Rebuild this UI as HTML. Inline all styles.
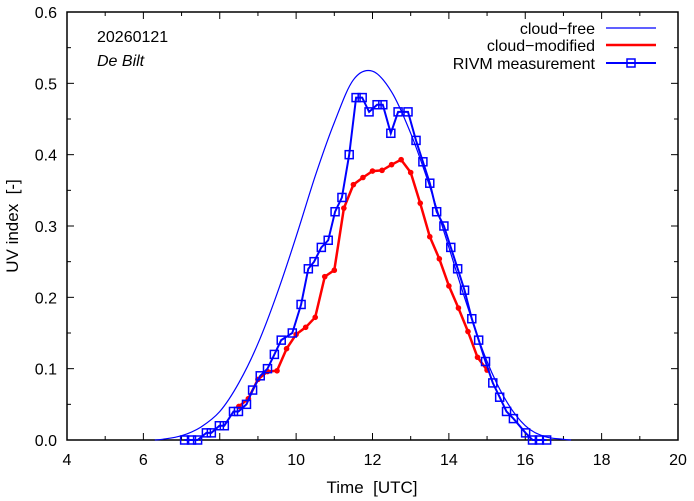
<!DOCTYPE html>
<html><head><meta charset="utf-8"><style>
html,body{margin:0;padding:0;background:#fff;}
svg{display:block;font-family:"Liberation Sans",sans-serif;}
</style></head><body>
<svg id="chart" width="694" height="501" xmlns="http://www.w3.org/2000/svg">
<g id="axes"></g>
<g id="series"></g>
<text x="97" y="42" font-size="16">20260121</text>
<text x="97" y="66" font-size="16" font-style="italic">De Bilt</text>
<g>
<g>
<text x="595" y="34" font-size="16" text-anchor="end">cloud−free</text>
<line x1="606" y1="28" x2="656" y2="28" stroke="#0000ff" stroke-width="1.2"/></g>
<g>
<text x="595" y="51" font-size="16" text-anchor="end">cloud−modified</text>
<line x1="606" y1="45" x2="656" y2="45" stroke="#ff0000" stroke-width="2.5"/></g>
<g>
<text x="595" y="69" font-size="16" text-anchor="end">RIVM measurement</text>
<line x1="606" y1="63" x2="656" y2="63" stroke="#0000ff" stroke-width="2"/>
<rect x="627" y="59" width="8" height="8" fill="none" stroke="#0000ff" stroke-width="1.5"/></g>
</g>
<text x="372" y="493" font-size="17" text-anchor="middle">Time&#160;&#160;[UTC]</text>
<text transform="translate(18,226) rotate(-90)" font-size="17" text-anchor="middle">UV index&#160;&#160;[-]</text>
</svg>
<script>
const xTicks = [4,6,8,10,12,14,16,18,20];
const yTicks = [0,0.1,0.2,0.3,0.4,0.5,0.6];
const clearTimes = [6.3,6.5,7,7.5,8,8.5,9,9.5,10,10.5,11,11.5,12,12.5,13,13.5,14,14.5,15,15.5,16,16.5,17,17.2];
const clearValues = [0,0.001,0.006,0.018,0.04,0.08,0.135,0.205,0.285,0.37,0.445,0.505,0.517,0.488,0.43,0.355,0.27,0.185,0.11,0.055,0.02,0.005,0.001,0];
const modTimes = [8.5,8.75,9,9.25,9.5,9.75,10,10.25,10.5,10.75,11,11.25,11.5,11.75,12,12.25,12.5,12.75,13,13.25,13.5,13.75,14,14.25,14.5,14.75,15];
const modValues = [0.047,0.058,0.085,0.096,0.097,0.128,0.148,0.158,0.172,0.229,0.238,0.325,0.358,0.368,0.377,0.378,0.386,0.393,0.375,0.332,0.285,0.254,0.216,0.185,0.152,0.116,0.098];
const measTimes = [7.08,7.26,7.42,7.65,7.78,7.99,8.12,8.36,8.49,8.70,8.86,9.06,9.25,9.43,9.61,9.90,10.13,10.32,10.47,10.66,10.84,11.02,11.20,11.39,11.57,11.73,11.91,12.12,12.27,12.48,12.67,12.93,13.14,13.32,13.50,13.68,13.87,14.05,14.23,14.41,14.60,14.78,14.96,15.15,15.33,15.51,15.69,16.01,16.19,16.37,16.56];
const measValues = [0,0,0,0.01,0.01,0.02,0.02,0.04,0.04,0.05,0.07,0.09,0.10,0.12,0.14,0.15,0.19,0.24,0.25,0.27,0.28,0.32,0.34,0.40,0.48,0.48,0.46,0.47,0.47,0.43,0.46,0.46,0.42,0.39,0.36,0.32,0.30,0.27,0.24,0.21,0.17,0.14,0.11,0.08,0.06,0.04,0.03,0.01,0,0,0];

const L=67,R=678,T=12,B=440,xMin=4,xMax=20,yMin=0,yMax=0.6;
function xs(v){return L+(v-xMin)/(xMax-xMin)*(R-L);}
function ys(v){return B-(v-yMin)/(yMax-yMin)*(B-T);}
const NS="http://www.w3.org/2000/svg";
function mk(tag,attrs,parent){const e=document.createElementNS(NS,tag);for(const k in attrs)e.setAttribute(k,attrs[k]);parent.appendChild(e);return e;}
const ax=document.getElementById('axes');
const frame=mk('rect',{x:L,y:T,width:R-L,height:B-T,fill:'none',stroke:'#000','stroke-width':1.5},ax);


xTicks.forEach((v,i)=>{
  const x=xs(v);
  mk('line',{x1:x,y1:B,x2:x,y2:B-7,stroke:'#000'},ax);
  mk('line',{x1:x,y1:T,x2:x,y2:T+7,stroke:'#000'},ax);
  if(i<xTicks.length-1){const m=xs(v+1);
    mk('line',{x1:m,y1:B,x2:m,y2:B-4,stroke:'#000'},ax);
    mk('line',{x1:m,y1:T,x2:m,y2:T+4,stroke:'#000'},ax);}
  const t=mk('text',{x:x,y:465,'font-size':16,'text-anchor':'middle'},ax);
  t.textContent=String(v);
  
  
});
yTicks.forEach((v,i)=>{
  const y=ys(v);
  mk('line',{x1:L,y1:y,x2:L+7,y2:y,stroke:'#000'},ax);
  mk('line',{x1:R,y1:y,x2:R-7,y2:y,stroke:'#000'},ax);
  if(i<yTicks.length-1){const m=ys(v+0.05);
    mk('line',{x1:L,y1:m,x2:L+4,y2:m,stroke:'#000'},ax);
    mk('line',{x1:R,y1:m,x2:R-4,y2:m,stroke:'#000'},ax);}
  const t=mk('text',{x:57,y:y+6,'font-size':16,'text-anchor':'end'},ax);
  t.textContent=v.toFixed(1);
  
  
});
const sg=document.getElementById('series');
function pts(ts,vs){return ts.map((t,i)=>xs(t).toFixed(1)+','+ys(vs[i]).toFixed(1)).join(' ');}
function smooth(ts,vs){
  const p=ts.map((t,i)=>[xs(t),ys(vs[i])]);
  let d='M'+p[0][0].toFixed(1)+','+p[0][1].toFixed(1);
  for(let i=0;i<p.length-1;i++){
    const p0=p[Math.max(0,i-1)],p1=p[i],p2=p[i+1],p3=p[Math.min(p.length-1,i+2)];
    const c1=[p1[0]+(p2[0]-p0[0])/6,p1[1]+(p2[1]-p0[1])/6];
    const c2=[p2[0]-(p3[0]-p1[0])/6,p2[1]-(p3[1]-p1[1])/6];
    d+=' C'+c1[0].toFixed(1)+','+c1[1].toFixed(1)+' '+c2[0].toFixed(1)+','+c2[1].toFixed(1)+' '+p2[0].toFixed(1)+','+p2[1].toFixed(1);
  }
  return d;
}
const cf=mk('path',{d:smooth(clearTimes,clearValues),fill:'none',stroke:'#0000ff','stroke-width':1.2},sg);


const cm=mk('polyline',{points:pts(modTimes,modValues),fill:'none',stroke:'#ff0000','stroke-width':2.5},sg);


modTimes.forEach((t,i)=>{
  const c=mk('circle',{cx:xs(t),cy:ys(modValues[i]),r:2.8,fill:'#ff0000'},sg);
  
  
});
const ml=mk('polyline',{points:pts(measTimes,measValues),fill:'none',stroke:'#0000ff','stroke-width':2},sg);


measTimes.forEach((t,i)=>{
  const r=mk('rect',{x:xs(t)-4,y:ys(measValues[i])-4,width:8,height:8,fill:'none',stroke:'#0000ff','stroke-width':1.5},sg);
  
  
});
</script>
</body></html>
